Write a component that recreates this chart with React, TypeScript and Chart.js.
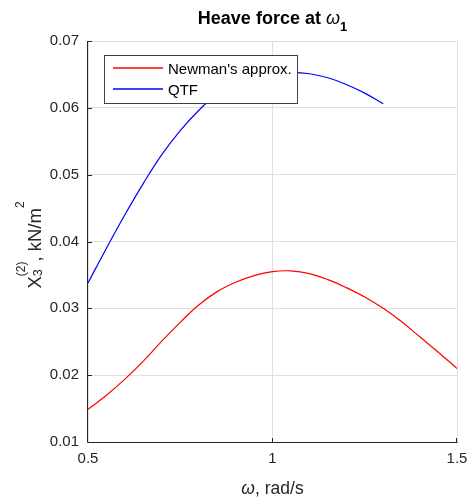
import React, { useEffect, useRef } from "react";
import { Chart, registerables } from "chart.js";

Chart.register(...registerables);

// Frequency grid (rad/s) and second-order heave force, kN/m^2
const omegaNewman = [
  0.5, 0.55, 0.6, 0.65, 0.7, 0.75, 0.8, 0.85, 0.9, 0.95, 1.0,
  1.05, 1.1, 1.15, 1.2, 1.25, 1.3, 1.35, 1.4, 1.45, 1.5,
];
const newmanApprox = [
  0.0149, 0.017, 0.0194, 0.0221, 0.0251, 0.0279, 0.0305, 0.0325, 0.0339, 0.0349, 0.0355,
  0.0356, 0.0352, 0.0343, 0.0331, 0.0317, 0.03, 0.028, 0.0257, 0.0234, 0.021,
];

const omegaQtf = [
  0.5, 0.55, 0.6, 0.65, 0.7, 0.75, 0.8, 0.85, 0.9, 0.95, 1.0,
  1.05, 1.1, 1.15, 1.2, 1.25, 1.3,
];
const qtfValues = [
  0.0338, 0.039, 0.044, 0.0487, 0.053, 0.0566, 0.0596, 0.0621, 0.0638, 0.0647, 0.0652,
  0.0653, 0.0651, 0.0645, 0.0635, 0.0622, 0.0606,
];

const xTickValues = [0.5, 1, 1.5];
const xTickLabels = ["0.5", "1", "1.5"];
const yTickValues = [0.01, 0.02, 0.03, 0.04, 0.05, 0.06, 0.07];
const yTickLabels = ["0.01", "0.02", "0.03", "0.04", "0.05", "0.06", "0.07"];

const legendLabels = ["Newman's approx.", "QTF"];
const seriesColors = ["#ff0000", "#0000ff"];

const FONT = "'Liberation Sans', Arial, Helvetica, sans-serif";
const AXIS_COLOR = "#262626";
const GRID_COLOR = "#dfdfdf";

type Part = { text: string; font: string; dy?: number; group?: boolean };

// Draws a run of text pieces left to right; pieces flagged as `group` share one
// horizontal slot (stacked sub/superscript) and advance by the wider of them.
function drawParts(ctx: CanvasRenderingContext2D, parts: Part[], x: number, y: number) {
  let cx = x;
  let i = 0;
  while (i < parts.length) {
    const p = parts[i];
    if (p.group) {
      let w = 0;
      let j = i;
      while (j < parts.length && parts[j].group) {
        ctx.font = parts[j].font;
        ctx.fillText(parts[j].text, cx, y + (parts[j].dy || 0));
        w = Math.max(w, ctx.measureText(parts[j].text).width);
        j++;
      }
      cx += w;
      i = j;
    } else {
      ctx.font = p.font;
      ctx.fillText(p.text, cx, y + (p.dy || 0));
      cx += ctx.measureText(p.text).width;
      i++;
    }
  }
}

function measureParts(ctx: CanvasRenderingContext2D, parts: Part[]) {
  let w = 0;
  let i = 0;
  while (i < parts.length) {
    if (parts[i].group) {
      let m = 0;
      while (i < parts.length && parts[i].group) {
        ctx.font = parts[i].font;
        m = Math.max(m, ctx.measureText(parts[i].text).width);
        i++;
      }
      w += m;
    } else {
      ctx.font = parts[i].font;
      w += ctx.measureText(parts[i].text).width;
      i++;
    }
  }
  return w;
}

const decorPlugin = {
  id: "decor",
  afterDatasetsDraw(chart: any) {
    const { ctx, chartArea } = chart;
    const { left, right, top, bottom } = chartArea;
    const xs = chart.scales.x;
    const ys = chart.scales.y;
    ctx.save();

    // axis spines (left and bottom only) with inward ticks
    ctx.strokeStyle = AXIS_COLOR;
    ctx.lineWidth = 1;
    ctx.beginPath();
    ctx.moveTo(left - 0.5, top);
    ctx.lineTo(left - 0.5, bottom + 0.5);
    ctx.lineTo(right + 0.5, bottom + 0.5);
    ctx.stroke();
    ctx.beginPath();
    for (const v of xTickValues) {
      const px = Math.round(xs.getPixelForValue(v)) - 0.5;
      ctx.moveTo(px, bottom);
      ctx.lineTo(px, bottom - 4);
    }
    for (const v of yTickValues) {
      const py = Math.round(ys.getPixelForValue(v)) + 0.5;
      ctx.moveTo(left, py);
      ctx.lineTo(left + 4, py);
    }
    ctx.stroke();

    // legend box
    const lx = 104.5, ly = 55.5, lw = 193, lh = 48;
    ctx.fillStyle = "#ffffff";
    ctx.fillRect(lx, ly, lw, lh);
    ctx.strokeStyle = "#404040";
    ctx.strokeRect(lx, ly, lw, lh);
    const rows = [68, 89];
    ctx.textAlign = "left";
    ctx.textBaseline = "middle";
    ctx.font = `15px ${FONT}`;
    legendLabels.forEach((label, i) => {
      ctx.strokeStyle = seriesColors[i];
      ctx.lineWidth = 1.3;
      ctx.beginPath();
      ctx.moveTo(113, rows[i]);
      ctx.lineTo(163, rows[i]);
      ctx.stroke();
      ctx.fillStyle = "#000000";
      ctx.fillText(label, 168, rows[i] + 1.5);
    });

    // title
    ctx.textBaseline = "alphabetic";
    ctx.fillStyle = "#000000";
    const cx = (left + right) / 2;
    const titleParts: Part[] = [
      { text: "Heave force at ", font: `bold 18px ${FONT}` },
      { text: "ω", font: `italic 18px ${FONT}` },
      { text: "1", font: `bold 13px ${FONT}`, dy: 7 },
    ];
    drawParts(ctx, titleParts, cx - measureParts(ctx, titleParts) / 2, 24);

    // x-axis label
    ctx.fillStyle = AXIS_COLOR;
    const xParts: Part[] = [
      { text: "ω", font: `italic 17.5px ${FONT}` },
      { text: ", rad/s", font: `17.5px ${FONT}` },
    ];
    drawParts(ctx, xParts, cx - measureParts(ctx, xParts) / 2, 494);

    // y-axis label, rotated
    const yParts: Part[] = [
      { text: "X", font: `18.5px ${FONT}` },
      { text: "(2)", font: `12px ${FONT}`, dy: -16, group: true },
      { text: "3", font: `12.5px ${FONT}`, dy: 1, group: true },
      { text: ", kN/m", font: `18.5px ${FONT}` },
      { text: "2", font: `12px ${FONT}`, dy: -17 },
    ];
    const yw = measureParts(ctx, yParts);
    const cy = 245;
    ctx.translate(41, cy + yw / 2);
    ctx.rotate(-Math.PI / 2);
    drawParts(ctx, yParts, 0, 0);

    ctx.restore();
  },
};

export default function App() {
  const canvasRef = useRef<HTMLCanvasElement | null>(null);

  useEffect(() => {
    const canvas = canvasRef.current;
    if (!canvas) return;
    const chart = new Chart(canvas, {
      type: "line",
      data: {
        datasets: [
          {
            label: legendLabels[0],
            data: omegaNewman.map((x, i) => ({ x, y: newmanApprox[i] })),
            borderColor: seriesColors[0],
            borderWidth: 1.2,
            pointRadius: 0,
            tension: 0.4,
            fill: false,
          },
          {
            label: legendLabels[1],
            data: omegaQtf.map((x, i) => ({ x, y: qtfValues[i] })),
            borderColor: seriesColors[1],
            borderWidth: 1.2,
            pointRadius: 0,
            tension: 0.4,
            fill: false,
          },
        ],
      },
      options: {
        responsive: false,
        animation: false,
        layout: { padding: { left: 0, top: 41, right: 12, bottom: 0 } },
        plugins: {
          legend: { display: false },
          title: { display: false },
          tooltip: { enabled: false },
        },
        scales: {
          x: {
            type: "linear",
            min: 0.5,
            max: 1.5,
            afterBuildTicks: (s: any) => {
              s.ticks = xTickValues.map((v) => ({ value: v }));
            },
            afterFit: (s: any) => {
              s.height = 58;
              s.paddingLeft = 0;
              s.paddingRight = 0;
            },
            ticks: {
              callback: (v: any) => xTickLabels[xTickValues.indexOf(Number(v))] ?? "",
              font: { family: FONT, size: 15 },
              color: AXIS_COLOR,
              padding: 8,
              maxRotation: 0,
              autoSkip: false,
            },
            grid: { color: GRID_COLOR, drawTicks: false },
            border: { display: false },
          },
          y: {
            type: "linear",
            min: 0.01,
            max: 0.07,
            afterBuildTicks: (s: any) => {
              s.ticks = yTickValues.map((v) => ({ value: v }));
            },
            afterFit: (s: any) => {
              s.width = 88;
              s.paddingTop = 0;
              s.paddingBottom = 0;
            },
            ticks: {
              callback: (v: any) => {
                const idx = yTickValues.findIndex((t) => Math.abs(t - Number(v)) < 1e-9);
                return idx >= 0 ? yTickLabels[idx] : "";
              },
              font: { family: FONT, size: 15 },
              color: AXIS_COLOR,
              padding: 9,
              autoSkip: false,
            },
            grid: { color: GRID_COLOR, drawTicks: false },
            border: { display: false },
          },
        },
      },
      plugins: [decorPlugin],
    });
    return () => chart.destroy();
  }, []);

  return (
    <div style={{ position: "absolute", left: 0, top: 0, width: 469, height: 500, background: "#ffffff" }}>
      <canvas ref={canvasRef} width={469} height={500} />
    </div>
  );
}
